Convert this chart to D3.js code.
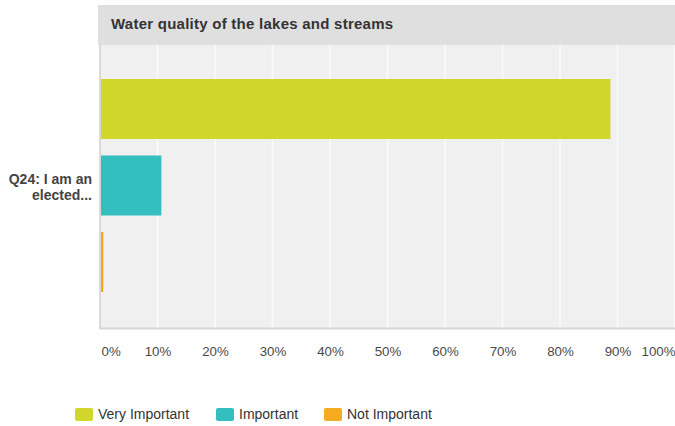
<!DOCTYPE html>
<html lang="en">
<head>
  <meta charset="UTF-8"/>
  <title>Water quality of the lakes and streams</title>
  <script src="https://d3js.org/d3.v7.min.js"></script>
  <style>
    body { margin: 0; background: #fff; font-family: "Liberation Sans", Arial, sans-serif; }
  </style>
</head>
<body>
<script>

  var w = 675;
  var h = 426;

  var title = "Water quality of the lakes and streams";
  var category = "Q24: I am an elected...";
  var series = ["Very Important", "Important", "Not Important"];
  var values = [88.6, 10.5, 0.4];
  var colors = ["#d0d62a", "#33bec0", "#f5ab1f"];
  var ticks = [0, 10, 20, 30, 40, 50, 60, 70, 80, 90, 100];

  var plotL = 100, plotR = 675, plotT = 45, plotB = 328;

  var svg = d3.select("body")
              .append("svg")
              .attr("width", w)
              .attr("height", h);

  var xScale = d3.scaleLinear()
         .domain([0, 100])
         .range([plotL, plotR]);

  var yScale = d3.scaleBand()
         .domain(series)
         .range([79, 292])
         .paddingInner(0.216);

  // title bar
  svg.append("rect")
     .attr("x", 98).attr("y", 5)
     .attr("width", w - 98).attr("height", plotT - 5)
     .attr("fill", "#dfdfdf");

  svg.append("text")
     .attr("x", 111).attr("y", 28.5)
     .attr("font-size", "15px")
     .attr("font-weight", "bold")
     .attr("letter-spacing", "0.25px")
     .attr("fill", "#333")
     .text(title);

  // plot background
  svg.append("rect")
     .attr("x", plotL).attr("y", plotT)
     .attr("width", plotR - plotL).attr("height", plotB - plotT)
     .attr("fill", "#f0f0f0");

  // gridlines
  svg.selectAll("line.grid")
     .data(ticks.slice(1))
     .enter()
     .append("line")
     .attr("class", "grid")
     .attr("x1", function(d) { return xScale(d); })
     .attr("x2", function(d) { return xScale(d); })
     .attr("y1", plotT)
     .attr("y2", plotB)
     .attr("stroke", "#fbfbfb")
     .attr("stroke-width", 1.5);

  // bars
  svg.selectAll("rect.bar")
     .data(values)
     .enter()
     .append("rect")
     .attr("class", "bar")
     .attr("x", xScale(0) + 1)
     .attr("y", function(d, i) { return yScale(series[i]); })
     .attr("width", function(d) { return Math.max(0, xScale(d) - xScale(0)); })
     .attr("height", yScale.bandwidth())
     .attr("fill", function(d, i) { return colors[i]; });

  // axis lines
  svg.append("line")
     .attr("x1", plotL).attr("x2", plotL)
     .attr("y1", plotT).attr("y2", plotB + 1)
     .attr("stroke", "#cfcfcf").attr("stroke-width", 1.5);

  svg.append("line")
     .attr("x1", plotL).attr("x2", plotR)
     .attr("y1", plotB + 0.5).attr("y2", plotB + 0.5)
     .attr("stroke", "#d6d6d6").attr("stroke-width", 2);

  // x tick labels
  var xAxis = d3.axisBottom(xScale)
      .tickValues(ticks)
      .tickSize(0)
      .tickPadding(0)
      .tickFormat(function(d) { return d + "%"; });

  var gx = svg.append("g")
     .attr("transform", "translate(0," + (plotB + 19) + ")")
     .call(xAxis);
  gx.select(".domain").remove();
  gx.selectAll("text")
     .attr("font-family", "'Liberation Sans', Arial, sans-serif")
     .attr("font-size", "13.3px")
     .attr("fill", "#4a4a4a")
     .attr("text-anchor", function(d) { return d === 0 ? "start" : (d === 100 ? "end" : "middle"); })
     .attr("dx", function(d) { return d === 0 ? 1 : 0; });

  // category label
  var words = ["Q24: I am an", "elected..."];
  svg.append("text")
     .attr("x", 92)
     .attr("y", 184)
     .attr("text-anchor", "end")
     .attr("font-size", "14px")
     .attr("font-weight", "bold")
     .attr("fill", "#444")
     .selectAll("tspan")
     .data(words)
     .enter()
     .append("tspan")
     .attr("x", 92)
     .attr("dy", function(d, i) { return i === 0 ? 0 : 16; })
     .text(function(d) { return d; });

  // legend
  var legendX = [75, 216, 324];
  var lg = svg.selectAll("g.legend")
     .data(series)
     .enter()
     .append("g")
     .attr("class", "legend")
     .attr("transform", function(d, i) { return "translate(" + legendX[i] + ",408)"; });

  lg.append("rect")
     .attr("width", 18).attr("height", 13)
     .attr("rx", 2)
     .attr("fill", function(d, i) { return colors[i]; });

  lg.append("text")
     .attr("x", 23).attr("y", 10.5)
     .attr("font-size", "14px")
     .attr("fill", "#333")
     .text(function(d) { return d; });

</script>
</body>
</html>
